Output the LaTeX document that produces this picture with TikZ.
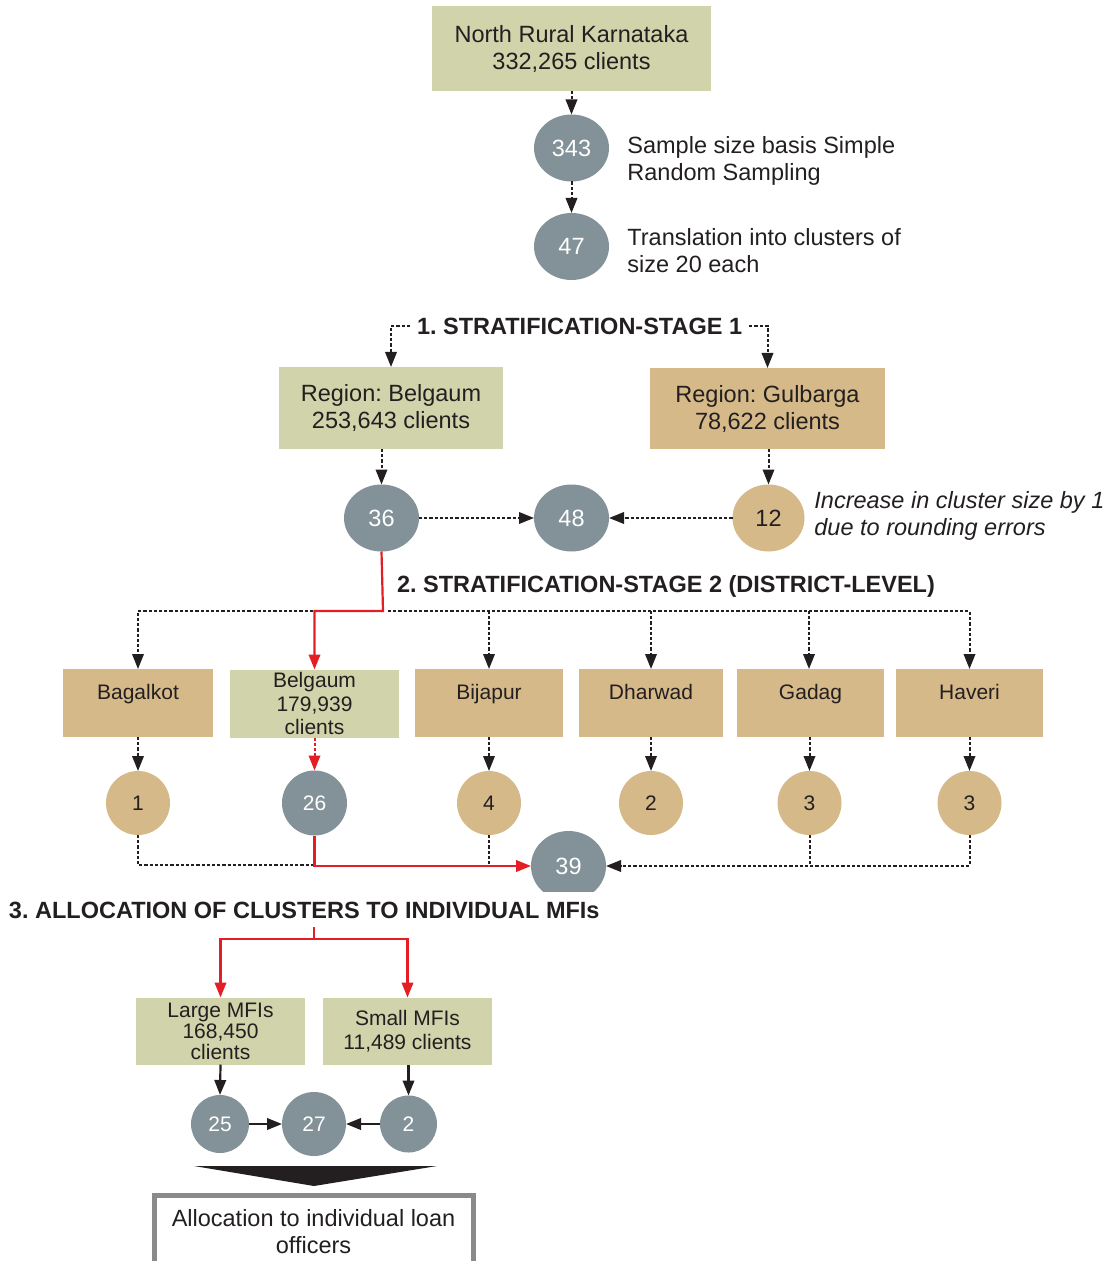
\documentclass[tikz,border=0pt]{standalone}
\usepackage{fontspec}
\setmainfont{Liberation Sans}
\usetikzlibrary{shapes.geometric,arrows.meta}
\definecolor{cgreen}{RGB}{209,211,171}
\definecolor{ctan}{RGB}{214,185,137}
\definecolor{cgray}{RGB}{130,146,152}
\definecolor{ctext}{RGB}{35,31,32}
\definecolor{cred}{RGB}{227,30,36}
\definecolor{cborder}{RGB}{138,138,138}
\frenchspacing
\begin{document}
\begin{tikzpicture}[x=0.5pt,y=-0.5pt,
  big/.style={font=\fontsize{11.75}{13.5}\selectfont},
  small/.style={font=\fontsize{10.5}{11.75}\selectfont},
  box/.style={inner sep=0pt, outer sep=0pt, align=center, text=ctext},
  gbox/.style={box, fill=cgreen},
  tbox/.style={box, fill=ctan},
  lab/.style={small, text=ctext, text height=7.6pt, text depth=2.2pt, yshift=4.6pt},
  gell/.style={ellipse, inner sep=0pt, outer sep=0pt, fill=cgray, text=white, big, minimum width=37.5pt, minimum height=33.5pt},
  tell/.style={ellipse, inner sep=0pt, outer sep=0pt, fill=ctan, text=ctext, big, minimum width=36pt, minimum height=33.5pt},
  gcirc/.style={circle, inner sep=0pt, outer sep=0pt, fill=cgray, text=white, small},
  tcirc/.style={circle, inner sep=0pt, outer sep=0pt, fill=ctan, text=ctext, small, minimum size=32pt},
  note/.style={big, text=ctext, align=left, inner sep=0pt, anchor=west},
  head/.style={font=\fontsize{11.75}{13.5}\selectfont\bfseries, text=ctext, inner sep=3.5pt, outer sep=0pt},
  dsh/.style={draw=ctext, line width=1pt, dash pattern=on 1.6pt off 1pt},
  sol/.style={draw=ctext, line width=1.1pt},
  redl/.style={draw=cred, line width=1.1pt},
  redd/.style={draw=cred, line width=1pt, dash pattern=on 1.6pt off 1pt},
  arr/.style={-{Triangle[length=7.5pt,width=5.75pt]}}
]
\useasboundingbox (0,0) rectangle (1115,1261);

% top part
\node[gbox, big, minimum width=139.5pt, minimum height=42.5pt] (top) at (571.5,48.5) {North Rural Karnataka\\332,265 clients};
\node[gell] (c343) at (571.5,148) {343};
\node[gell] (c47) at (571.5,246.5) {47};
\node[note] (t343) at (627,160.5) {Sample size basis Simple\\Random Sampling};
\node[note] (t47) at (627,250.5) {Translation into clusters of\\size 20 each};
\draw[dsh,arr] (top.south) -- (c343.north);
\draw[dsh,arr] (c343.south) -- (c47.north);

% stage 1
\node[head, anchor=west] (h1) at (410,326) {1. STRATIFICATION-STAGE 1};
\node[gbox, big, minimum width=112pt, minimum height=41pt] (rbel) at (391,408) {Region: Belgaum\\253,643 clients};
\node[tbox, big, minimum width=117.5pt, minimum height=40.5pt] (rgul) at (767.5,408.5) {Region: Gulbarga\\78,622 clients};
\draw[dsh,arr] (h1.west) -| (rbel.north);
\draw[dsh,arr] (h1.east) -| (rgul.north);

\node[gell] (c36) at (381.5,518) {36};
\node[gell] (c48) at (571.5,518) {48};
\node[tell] (c12) at (768.5,518) {12};
\node[note, font=\fontsize{11.75}{13.5}\selectfont\itshape] (t12) at (814,515.5) {Increase in cluster size by 1\\due to rounding errors};
\draw[dsh,arr] (c36 |- rbel.south) -- (c36.north);
\draw[dsh,arr] (c12 |- rgul.south) -- (c12.north);
\draw[dsh,arr] (c36.east) -- (c48.west);
\draw[dsh,arr] (c12.west) -- (c48.east);

% stage 2
\node[head, anchor=west, inner sep=0pt] (h2) at (397,586) {2. STRATIFICATION-STAGE 2 (DISTRICT-LEVEL)};
\node[tbox, minimum width=75pt, minimum height=34pt, label={[lab]center:Bagalkot}] (dbag) at (138,703) {};
\node[gbox, small, minimum width=84.5pt, minimum height=34pt] (dbel) at (314.5,703.5) {Belgaum\\179,939\\clients};
\node[tbox, minimum width=74pt, minimum height=34pt, label={[lab]center:Bijapur}] (dbij) at (489,703) {};
\node[tbox, minimum width=72pt, minimum height=34pt, label={[lab]center:Dharwad}] (ddha) at (651,703) {};
\node[tbox, minimum width=73.5pt, minimum height=34pt, label={[lab]center:Gadag}] (dgad) at (810.5,703) {};
\node[tbox, minimum width=73.5pt, minimum height=34pt, label={[lab]center:Haveri}] (dhav) at (969.5,703) {};

\coordinate (jl) at (313,611);
\coordinate (jr) at (388,611);
\draw[redl,arr] (c36.south) -- (383,611) -| (dbel.north);
\draw[dsh,arr] (jl) -| (dbag.north);
\draw[dsh,arr] (jr) -| (dhav.north);
\draw[dsh,arr] (dbij.north |- jr) -- (dbij.north);
\draw[dsh,arr] (ddha.north |- jr) -- (ddha.north);
\draw[dsh,arr] ([xshift=-0.75pt]dgad.north |- jr) -- ([xshift=-0.75pt]dgad.north);

\node[tcirc] (k1) at (138,803) {1};
\node[gcirc, minimum size=32.5pt] (k26) at (314.5,803) {26};
\node[tcirc] (k4) at (489,803) {4};
\node[tcirc] (k2) at (651,803) {2};
\node[tcirc] (k3a) at (809.5,803) {3};
\node[tcirc] (k3b) at (969.5,803) {3};
\draw[dsh,arr] (dbag.south) -- (k1.north);
\draw[redd,arr] (dbel.south) -- (k26.north);
\draw[dsh,arr] (dbij.south) -- (k4.north);
\draw[dsh,arr] (ddha.south) -- (k2.north);
\draw[dsh,arr] (k3a |- dgad.south) -- (k3a.north);
\draw[dsh,arr] (dhav.south) -- (k3b.north);

\begin{scope}
  \clip (480,800) rectangle (660,891.5);
  \node[ellipse, inner sep=0pt, outer sep=0pt, fill=cgray, text=white, big, minimum width=37.5pt, minimum height=35pt] (c39) at (568.5,866) {39};
\end{scope}
\coordinate (jb) at (313,865);
\draw[dsh] (k1.south) |- (jb);
\draw[redl,arr] (k26.south) |- (c39.west);
\draw[dsh] (k4.south) -- (k4.south |- c39.west);
\draw[dsh,arr] (k3b.south) |- (c39.east);
\draw[dsh] (k3a.south) -- (k3a.south |- c39.east);

% stage 3
\node[head, anchor=west, inner sep=0pt] (h3) at (9,910) {3. ALLOCATION OF CLUSTERS TO INDIVIDUAL MFIs};
\node[gbox, font=\fontsize{10.5}{10.5}\selectfont, minimum width=84.5pt, minimum height=33.5pt] (lmfi) at (220.5,1031) {Large MFIs\\168,450\\clients};
\node[gbox, small, minimum width=84.5pt, minimum height=33.5pt] (smfi) at (407.5,1031) {Small MFIs\\11,489 clients};
\coordinate (r3a) at (314,927);
\coordinate (r3b) at (314,939);
\draw[redl] (r3a) -- (r3b);
\draw[redl,arr] (r3b) -| (lmfi.north);
\draw[redl,arr] (r3b) -| (smfi.north);

\node[gcirc, minimum size=29pt] (b25) at (220,1124) {25};
\node[gcirc, minimum size=32pt] (b27) at (314,1124) {27};
\node[gcirc, minimum size=28.5pt] (b2) at (408.5,1124) {2};
\draw[sol,arr] (lmfi.south) -- (b25.north);
\draw[sol,arr] (b2 |- smfi.south) -- (b2.north);
\draw[sol,arr] (b25.east) -- (b27.west);
\draw[sol,arr] (b2.west) -- (b27.east);

\fill[ctext] (194,1166) -- (437,1166) -- (314,1186) -- cycle;

\node[draw=cborder, line width=2.5pt, fill=white, inner sep=0pt, minimum width=159.5pt, minimum height=37pt, big, text=ctext, align=center] (alloc) at (313.5,1232) {Allocation to individual loan\\officers};
\end{tikzpicture}
\end{document}
